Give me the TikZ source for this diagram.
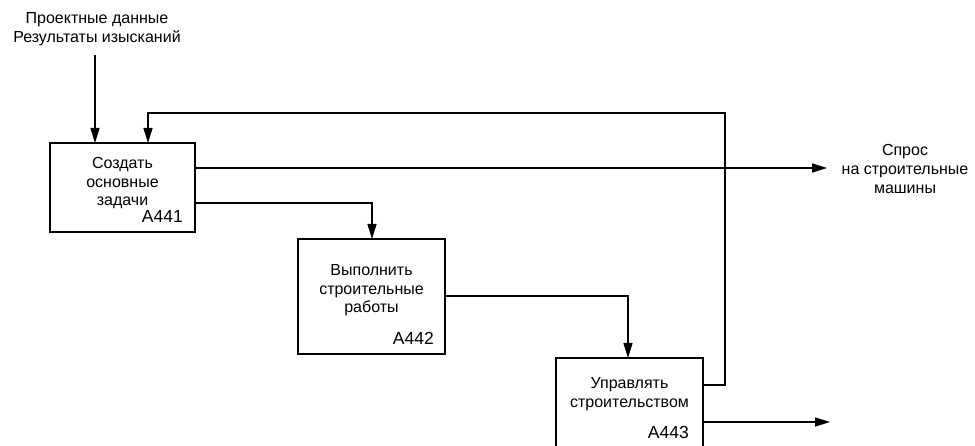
\documentclass[tikz,border=0pt]{standalone}
\usepackage{fontspec}
\setmainfont{Liberation Sans}
\usetikzlibrary{arrows.meta,positioning,calc}

\begin{document}
\begin{tikzpicture}[x=1pt,y=-1pt,
  func/.style={draw,line width=1.5pt,inner sep=0pt,outer sep=0pt,anchor=north west},
  txt/.style={inner sep=0pt,align=center,font=\fontsize{16}{18.8}\selectfont},
  ident/.style={inner sep=0pt,font=\fontsize{17.5}{20}\selectfont},
  flow/.style={line width=1.5pt,-{Triangle[length=15pt,width=9pt]}}]
\clip (0,0) rectangle (975,446);
%
% functions
\node[func,minimum width=145,minimum height=89] (a441) at (50,143) {};
\node[func,minimum width=147,minimum height=115] (a442) at (298,239) {};
\node[func,minimum width=147,minimum height=91] (a443) at (556,358) {};
%
\node[txt,below=14pt of a441.north] (t441) {Создать\\основные\\задачи};
\node[txt,below=25pt of a442.north] (t442) {Выполнить\\строительные\\работы};
\node[txt,below=19pt of a443.north] (t443) {Управлять\\строительством};
\node[ident,above left=9pt and 12pt of a441.south east] (n441) {A441};
\node[ident,above left=9.5pt and 11pt of a442.south east] (n442) {A442};
\node[ident,above left=10pt and 14pt of a443.south east] (n443) {A443};
%
% external arrows
\node[txt] (data) at (97,29.5) {Проектные данные\\Результаты изысканий};
\coordinate (in) at (95,55);
\draw[flow] (in)--(in|-a441.north);
\node[txt] (demand) at (905,169) {Спрос\\на строительные\\машины};
\coordinate (out1) at (827,168);
\draw[flow] (a441.east|-out1)--(out1);
\coordinate (out3) at (830,422);
\draw[flow] (a443.east|-out3)--(out3);
%
% internal arrows
\coordinate (c12) at (372,203);
\draw[flow] (a441.east|-c12)-|(c12|-a442.north);
\coordinate (c23) at (628,296);
\draw[flow] (a442.east|-c23)-|(c23|-a443.north);
\coordinate (fb) at (725,113);
\coordinate (fbin) at (148,143);
\draw[flow] ($(a443.north east)+(0,27)$)-|(fb)-|(fbin|-a441.north);
\end{tikzpicture}
\end{document}
